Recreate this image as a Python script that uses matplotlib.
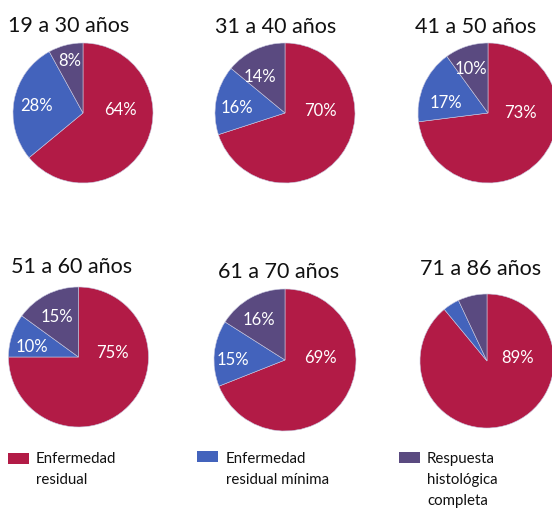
import matplotlib
matplotlib.use("Agg")
import matplotlib.pyplot as plt
from matplotlib.patches import Rectangle

# ---- data ----
groups = ["19 a 30 años", "31 a 40 años", "41 a 50 años",
          "51 a 60 años", "61 a 70 años", "71 a 86 años"]
enfermedad_residual = [64, 70, 73, 75, 69, 89]
residual_minima = [28, 16, 17, 10, 15, 4]
respuesta_completa = [8, 14, 10, 15, 16, 7]
series_labels = ["Enfermedad\nresidual", "Enfermedad\nresidual mínima",
                 "Respuesta\nhistológica\ncompleta"]
colors = ["#B21B46", "#4363BC", "#5A4A80"]

# ---- layout (pixels) ----
W, H = 552, 511
FONT = ["Lato", "DejaVu Sans"]
centers = [(83, 113, 70), (285, 113, 70), (488, 113, 70),
           (78.5, 357, 70), (285, 360, 71), (487, 361, 67)]
# title centre x, baseline y
title_pos = [(69, 32), (276, 33), (476, 33), (71.5, 273), (279, 278), (481, 275)]
# label offsets in radius units, per pie: (red, blue, purple)
label_off = [
    [(0.54, 0.04), (-0.66, 0.10), (-0.19, 0.74)],
    [(0.50, 0.03), (-0.69, 0.07), (-0.36, 0.51)],
    [(0.46, 0.00), (-0.60, 0.14), (-0.24, 0.63)],
    [(0.48, 0.06), (-0.66, 0.14), (-0.31, 0.57)],
    [(0.50, 0.03), (-0.73, 0.00), (-0.37, 0.56)],
    [(0.46, 0.04), (-0.88, 0.86), (-0.12, 1.10)],
]
label_size = [[12, 12, 12]] * 5 + [[12, 8, 8]]

fig = plt.figure(figsize=(W / 100, H / 100), dpi=100)
fig.patch.set_facecolor("white")

for i, g in enumerate(groups):
    cx, cy, r = centers[i]
    ax = fig.add_axes([(cx - r) / W, 1 - (cy + r) / H, 2 * r / W, 2 * r / H])
    vals = [enfermedad_residual[i], residual_minima[i], respuesta_completa[i]]
    ax.pie(vals, colors=colors, startangle=90, counterclock=False, radius=1,
           wedgeprops=dict(edgecolor="#c8c8e0", linewidth=0.4))
    ax.set_xlim(-1, 1)
    ax.set_ylim(-1, 1)
    ax.set_aspect("auto")
    ax.axis("off")
    for j, v in enumerate(vals):
        ox, oy = label_off[i][j]
        ax.text(ox, oy, f"{v}%", ha="center", va="center", color="white",
                fontsize=label_size[i][j], family=FONT, clip_on=False)
    tx, ty = title_pos[i]
    fig.text(tx / W, 1 - ty / H, g, ha="center", va="baseline", fontsize=15.5,
             family=FONT, color="#111111")

# ---- legend ----
leg_sq = [(8, 453), (197, 451), (399, 452)]
leg_tx = [36, 226, 427]
for k, lab in enumerate(series_labels):
    sx, sy = leg_sq[k]
    fig.patches.append(Rectangle((sx / W, 1 - (sy + 11) / H), 21 / W, 11 / H,
                                 transform=fig.transFigure, facecolor=colors[k],
                                 edgecolor="none"))
    fig.text(leg_tx[k] / W, 1 - 452 / H, lab, ha="left", va="top",
             fontsize=10.8, family=FONT, color="#111111", linespacing=1.62)

fig.savefig("out.png", dpi=100, facecolor="white")
